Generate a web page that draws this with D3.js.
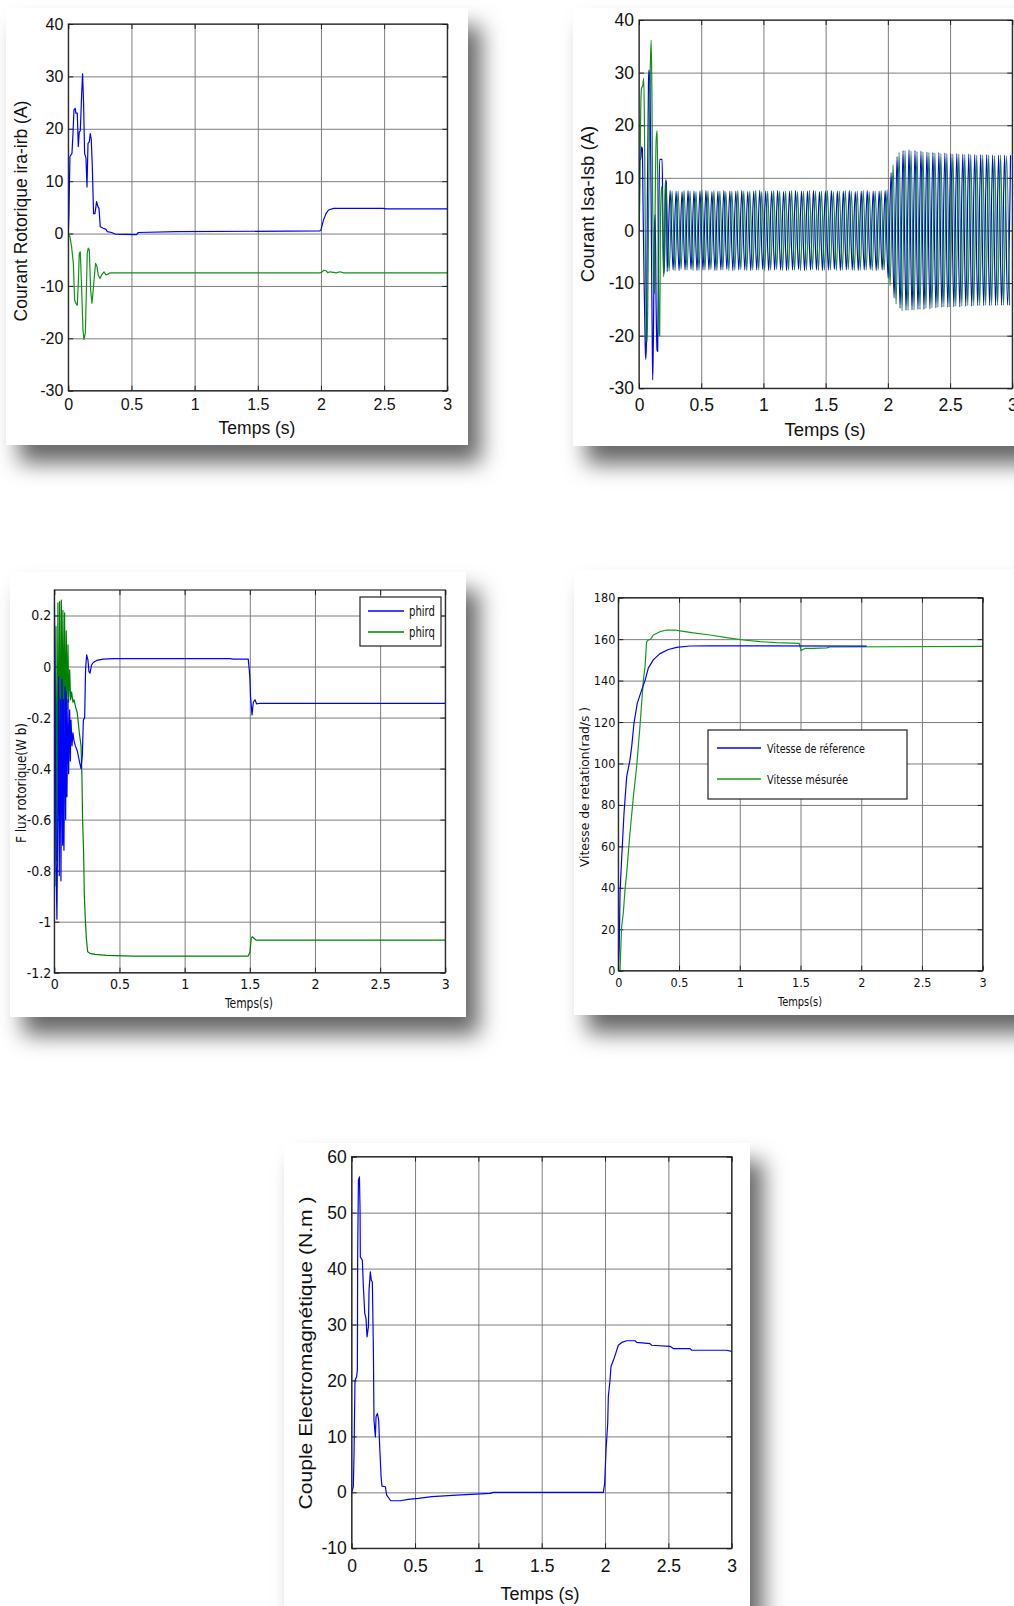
<!DOCTYPE html>
<html><head><meta charset="utf-8">
<script src="https://cdn.jsdelivr.net/npm/d3@7"></script>
<style>body{margin:0;background:#fff}svg{display:block}</style>
</head><body>
<svg id="c" width="1014" height="1606"></svg>
<script>
// ---------------- DATA ----------------
const timeTicks = [0, 0.5, 1, 1.5, 2, 2.5, 3];
const currentTicks = [-30, -20, -10, 0, 10, 20, 30, 40];
const fluxTicks = [-1.2, -1, -0.8, -0.6, -0.4, -0.2, 0, 0.2];
const speedTicks = [0, 20, 40, 60, 80, 100, 120, 140, 160, 180];
const torqueTicks = [-10, 0, 10, 20, 30, 40, 50, 60];

// Panel 1 : rotor currents [t, A]
const ira = [[0,0],[0.005,3.8],[0.013,14.7],[0.029,15.3],[0.037,19.1],[0.045,23.6],[0.055,23.9],[0.06,23],[0.071,23],[0.079,16.6],[0.087,19.4],[0.095,19.6],[0.106,26.8],[0.113,30.5],[0.121,24.9],[0.129,15.3],[0.14,14.4],[0.148,8.9],[0.156,17.2],[0.166,17.5],[0.174,19.1],[0.182,17.9],[0.19,12.8],[0.2,3.8],[0.211,3.8],[0.224,6.1],[0.235,5.1],[0.243,4.8],[0.253,1.3],[0.277,1.0],[0.298,0.8],[0.309,0.35],[0.343,0.2],[0.37,-0.1],[0.54,-0.2],[0.554,0.2],[0.857,0.35],[1.99,0.5],[2.0,0.7],[2.02,2.6],[2.04,3.8],[2.06,4.5],[2.1,4.8],[2.49,4.8],[2.52,4.7],[3.0,4.7]];
const irb = [[0,0],[0.013,-0.6],[0.026,-2.5],[0.04,-5.7],[0.05,-12.7],[0.06,-13.3],[0.071,-13.7],[0.079,-9.5],[0.087,-3.8],[0.095,-3.5],[0.106,-10.8],[0.116,-18.4],[0.124,-20.2],[0.135,-19],[0.142,-12],[0.15,-3.8],[0.158,-2.8],[0.166,-3.1],[0.177,-10.8],[0.187,-13.3],[0.195,-11.4],[0.206,-8.2],[0.216,-5.7],[0.227,-6.3],[0.237,-7.9],[0.251,-8.6],[0.264,-7.9],[0.282,-7.3],[0.298,-7.9],[0.317,-7.7],[0.33,-7.5],[1.99,-7.5],[2.005,-7.4],[2.024,-7.0],[2.04,-7.1],[2.055,-7.5],[2.07,-7.3],[2.1,-7.4],[2.12,-7.5],[2.15,-7.3],[2.18,-7.5],[3.0,-7.5]];

// Panel 2 : stator currents, start-up transient [t, A] then successive peak values
const isaTransient = [[0,0],[0.003,5.5],[0.006,13.5],[0.014,13.5],[0.02,15.9],[0.027,15.5],[0.032,5.8],[0.04,-8],[0.05,-22],[0.054,-24.5],[0.06,-21],[0.067,5],[0.076,28],[0.08,30.5],[0.086,29],[0.092,19.7],[0.1,-2],[0.106,-20],[0.11,-28.4],[0.116,-20],[0.124,0],[0.13,3],[0.138,-15],[0.145,-22.7],[0.15,-23],[0.158,0],[0.166,13.5],[0.186,13.5],[0.192,2],[0.2,-8.2],[0.206,-5],[0.214,9.6],[0.22,9]];
const isbTransient = [[0,0],[0.006,6],[0.012,20],[0.02,27],[0.03,27.5],[0.038,28.9],[0.044,20],[0.052,-5],[0.06,-20.8],[0.066,-21.2],[0.072,-10],[0.08,10],[0.09,30],[0.098,36.2],[0.104,25],[0.11,5],[0.118,-10],[0.124,-12],[0.13,5],[0.138,17.2],[0.146,19],[0.152,5],[0.16,-19.6],[0.166,-20],[0.172,0],[0.18,8.3],[0.186,8],[0.192,-3],[0.198,-8.8],[0.204,-5],[0.21,9.2],[0.216,8.8]];
const peakHalfPeriod = 0.024;   // s between successive peaks
const isaPeakStart = 0.226, isbPeakStart = 0.242;
const isaPeaks = [
 -7.8,7.6,-7.5,7.5,-7.6,7.4,-7.5,7.6,-7.4,7.5,
 -7.6,7.5,-7.5,7.6,-7.5,7.4,-7.6,7.5,-7.5,7.6,
 -7.4,7.5,-7.6,7.5,-7.5,7.6,-7.5,7.4,-7.6,7.5,
 -7.5,7.6,-7.4,7.5,-7.6,7.5,-7.5,7.6,-7.5,7.4,
 -7.6,7.5,-7.5,7.6,-7.4,7.5,-7.6,7.5,-7.5,7.6,
 -7.5,7.4,-7.6,7.5,-7.5,7.6,-7.4,7.5,-7.6,7.5,
 -7.5,7.6,-7.5,7.4,-7.6,7.5,-7.5,7.6,-7.4,7.5,
 -7.6,7.5,-7.5,7.6,
 -9.0,11.0,-12.8,14.0,-14.8,15.2,
 -15.2,15.3,-15.1,15.2,-15.0,15.1,-15.0,14.9,-14.9,14.8,
 -14.7,14.8,-14.6,14.7,-14.6,14.6,-14.5,14.6,-14.5,14.5,
 -14.4,14.5,-14.4,14.4,-14.3,14.4,-14.3,14.4,-14.3,14.3,
 -14.3,14.3,-14.2,14.3,-14.2,14.3];
const isbPeaks = [
 -7.7,7.5,-7.6,7.5,-7.4,7.6,-7.5,7.5,-7.6,7.4,
 -7.5,7.6,-7.5,7.5,-7.4,7.6,-7.6,7.5,-7.5,7.4,
 -7.6,7.5,-7.5,7.6,-7.4,7.5,-7.6,7.5,-7.5,7.6,
 -7.5,7.4,-7.6,7.5,-7.5,7.6,-7.4,7.5,-7.6,7.5,
 -7.5,7.6,-7.5,7.4,-7.6,7.5,-7.5,7.6,-7.4,7.5,
 -7.6,7.5,-7.5,7.6,-7.5,7.4,-7.6,7.5,-7.5,7.6,
 -7.4,7.5,-7.6,7.5,-7.5,7.6,-7.5,7.4,-7.6,7.5,
 -7.5,7.6,-7.5,
 7.7,-10.5,12.5,-14.0,14.8,-15.3,15.2,
 -15.2,15.1,-15.1,15.0,-15.0,14.9,-14.8,14.8,-14.7,14.7,
 -14.6,14.6,-14.5,14.6,-14.5,14.5,-14.4,14.5,-14.4,14.4,
 -14.3,14.4,-14.3,14.3,-14.3,14.3,-14.2,14.3,-14.2,14.2,
 -14.2,14.3,-14.2,14.2,-14.2];

// Panel 3 : rotor flux [t, Wb]
const phird = [[0,0.3],[0.005,0.026],[0.008,-0.26],[0.013,-0.76],[0.02,-0.99],[0.028,-0.5],[0.033,-0.04],[0.038,-0.82],[0.046,-0.13],[0.051,-0.84],[0.059,-0.05],[0.064,-0.7],[0.069,-0.13],[0.074,-0.72],[0.082,-0.08],[0.087,-0.6],[0.092,-0.1],[0.097,-0.51],[0.105,-0.13],[0.11,-0.42],[0.118,-0.17],[0.123,-0.37],[0.128,-0.21],[0.136,-0.31],[0.143,-0.26],[0.151,-0.29],[0.161,-0.31],[0.176,-0.33],[0.192,-0.37],[0.205,-0.4],[0.215,-0.35],[0.223,-0.21],[0.233,-0.2],[0.24,-0.01],[0.248,0.046],[0.258,0.026],[0.266,-0.02],[0.274,-0.026],[0.286,0.006],[0.299,0.016],[0.325,0.024],[0.376,0.029],[0.453,0.031],[1.348,0.031],[1.373,0.029],[1.488,0.029],[1.496,-0.013],[1.501,-0.05],[1.506,-0.12],[1.517,-0.19],[1.527,-0.14],[1.54,-0.13],[1.552,-0.146],[1.578,-0.144],[3,-0.144]];
const phirq = [[0,0],[0.005,-0.86],[0.013,0.157],[0.018,-0.76],[0.028,0.25],[0.033,-0.58],[0.041,0.255],[0.046,-0.5],[0.054,0.26],[0.059,-0.37],[0.066,0.22],[0.072,-0.31],[0.079,0.21],[0.084,-0.24],[0.092,0.14],[0.097,-0.17],[0.105,0.085],[0.11,-0.14],[0.118,-0.013],[0.125,-0.13],[0.133,-0.1],[0.143,-0.14],[0.151,-0.13],[0.164,-0.16],[0.176,-0.18],[0.192,-0.26],[0.205,-0.31],[0.212,-0.43],[0.217,-0.6],[0.225,-0.73],[0.23,-0.89],[0.238,-0.99],[0.246,-1.065],[0.256,-1.118],[0.274,-1.124],[0.312,-1.128],[0.402,-1.132],[0.606,-1.135],[1.488,-1.135],[1.501,-1.12],[1.511,-1.065],[1.519,-1.059],[1.532,-1.065],[1.547,-1.072],[3,-1.072]];

// Panel 4 : speed [t, rad/s]
const wRef = [[0,0],[0.008,11.6],[0.014,37.3],[0.027,53.4],[0.047,76],[0.069,93.6],[0.096,101.7],[0.11,108],[0.129,119.4],[0.156,129],[0.192,135.4],[0.22,140],[0.247,146],[0.288,150],[0.343,153],[0.412,155],[0.48,156],[0.59,156.7],[0.755,156.8],[2.045,156.6]];
const wMes = [[0,0],[0.014,0],[0.027,21],[0.041,27.7],[0.055,39],[0.069,47],[0.082,56.6],[0.096,66.3],[0.124,84],[0.151,98.4],[0.178,117.7],[0.206,140],[0.22,146.7],[0.233,158.8],[0.247,159.6],[0.266,160],[0.288,162],[0.343,163.6],[0.398,164.4],[0.467,164.4],[0.508,164],[0.618,163],[0.755,162],[0.892,160.7],[1.03,159.6],[1.167,158.8],[1.304,158.3],[1.49,158],[1.496,156.7],[1.504,154.4],[1.518,155],[1.537,155.5],[1.606,155.5],[1.716,155.8],[1.743,156.2],[3,156.5]];

// Panel 5 : electromagnetic torque [t, N.m]
const torque = [[0,0],[0.013,1],[0.018,6.4],[0.026,20],[0.039,20.7],[0.045,21.9],[0.047,42.1],[0.053,55.8],[0.061,56.4],[0.066,50.4],[0.068,42.1],[0.084,41.5],[0.092,36.8],[0.103,32],[0.113,31.1],[0.121,27.8],[0.132,29.6],[0.137,36.2],[0.147,39.4],[0.155,37.9],[0.163,37.6],[0.171,26],[0.176,12.9],[0.187,9.9],[0.192,13.5],[0.203,14.1],[0.213,12.9],[0.221,8.2],[0.232,2.8],[0.239,1.1],[0.266,1],[0.276,-0.5],[0.295,-1.1],[0.308,-1.5],[0.382,-1.5],[0.447,-1.25],[0.526,-1.07],[0.632,-0.77],[0.829,-0.48],[1.092,-0.18],[1.118,0],[1.987,0],[1.997,1.6],[2.008,7.6],[2.021,12.3],[2.026,17.1],[2.039,20],[2.047,22.5],[2.066,23.6],[2.084,24.8],[2.105,26.3],[2.132,26.8],[2.171,27.1],[2.237,27.1],[2.25,26.8],[2.355,26.6],[2.368,26.3],[2.513,26.1],[2.539,25.7],[2.671,25.7],[2.684,25.4],[2.96,25.4],[3.0,25.2]];

// ---------------- DRAW ----------------
const svg = d3.select("#c");
const defs = svg.append("defs");
const f = defs.append("filter").attr("id","sh").attr("x","-10%").attr("y","-10%").attr("width","135%").attr("height","135%");
f.append("feDropShadow").attr("dx",13).attr("dy",18).attr("stdDeviation",11).attr("flood-color","#000").attr("flood-opacity",0.6);

const BLUE = "#0000ff", GREEN = "#008000";
const ARIAL = "'Liberation Sans', Arial, sans-serif";
const NARROW = "'Liberation Sans Narrow', 'Arial Narrow', 'DejaVu Sans Condensed', sans-serif";
const fmt = d => String(+d.toFixed(1));

function peaksToPoints(start, vals) {
  return vals.map((v, i) => [start + i * peakHalfPeriod, v]);
}

function panel(c) {
  const g = svg.append("g");
  g.append("rect").attr("x", c.card[0]).attr("y", c.card[1]).attr("width", c.card[2]).attr("height", c.card[3])
    .attr("fill", "#fff").attr("filter", "url(#sh)");
  const [x0, y0, x1, y1] = c.plot;
  const x = d3.scaleLinear().domain([0, 3]).range([x0, x1]);
  const y = d3.scaleLinear().domain(c.yDomain).range([y1, y0]);
  const W = x1 - x0, H = y1 - y0;
  // grid
  const grid = g.append("g");
  grid.append("g").attr("transform", `translate(0,${y1})`)
    .call(d3.axisBottom(x).tickValues(timeTicks).tickSize(-H).tickFormat(""));
  grid.append("g").attr("transform", `translate(${x0},0)`)
    .call(d3.axisLeft(y).tickValues(c.yTicks).tickSize(-W).tickFormat(""));
  grid.selectAll(".domain").remove();
  grid.selectAll("line").attr("stroke", "#7d7d7d").attr("stroke-width", 1);
  // inner tick marks on four sides
  const tk = g.append("g");
  tk.append("g").attr("transform", `translate(0,${y1})`).call(d3.axisBottom(x).tickValues(timeTicks).tickSize(-5).tickFormat(""));
  tk.append("g").attr("transform", `translate(0,${y0})`).call(d3.axisTop(x).tickValues(timeTicks).tickSize(-5).tickFormat(""));
  tk.append("g").attr("transform", `translate(${x0},0)`).call(d3.axisLeft(y).tickValues(c.yTicks).tickSize(-5).tickFormat(""));
  tk.append("g").attr("transform", `translate(${x1},0)`).call(d3.axisRight(y).tickValues(c.yTicks).tickSize(-5).tickFormat(""));
  tk.selectAll(".domain").remove();
  tk.selectAll("line").attr("stroke", "#222");
  // series
  const cid = "clip" + c.id;
  defs.append("clipPath").attr("id", cid).append("rect").attr("x", x0).attr("y", y0).attr("width", W).attr("height", H);
  const sg = g.append("g").attr("clip-path", `url(#${cid})`);
  c.series.forEach(s => {
    const line = d3.line().x(d => x(d[0])).y(d => y(d[1])).curve(s.curve || d3.curveLinear);
    sg.append("path").datum(s.data).attr("d", line).attr("fill", "none")
      .attr("stroke", s.color).attr("stroke-width", s.width || 1.2).attr("stroke-linejoin", "round")
      .attr("stroke-opacity", s.opacity || 1);
  });
  // box
  g.append("rect").attr("x", x0).attr("y", y0).attr("width", W).attr("height", H)
    .attr("fill", "none").attr("stroke", "#1a1a1a").attr("stroke-width", 1.1);
  // tick labels
  const lab = g.append("g").attr("font-family", c.font).attr("font-size", c.tickSize).attr("fill", "#111");
  lab.append("g").attr("transform", `translate(0,${y1})`)
    .call(d3.axisBottom(x).tickValues(timeTicks).tickSize(0).tickPadding(c.xPad).tickFormat(fmt));
  lab.append("g").attr("transform", `translate(${x0},0)`)
    .call(d3.axisLeft(y).tickValues(c.yTicks).tickSize(0).tickPadding(c.yPad).tickFormat(fmt));
  lab.selectAll(".domain").remove();
  lab.selectAll("text").attr("font-family", c.font).attr("font-size", c.tickSize).attr("fill", "#111");
  // axis titles
  const xt = g.append("text").attr("x", c.xLabel[1]).attr("y", c.xLabel[2]).attr("text-anchor", "middle")
    .attr("font-family", c.font).attr("font-size", c.labelSize).attr("fill", "#111").text(c.xLabel[0]);
  if (c.xLabel[3]) xt.attr("textLength", c.xLabel[3]).attr("lengthAdjust", "spacingAndGlyphs");
  const yt = g.append("text").attr("transform", `translate(${c.yLabel[1]},${c.yLabel[2]}) rotate(-90)`)
    .attr("text-anchor", "middle").attr("font-family", c.font).attr("font-size", c.labelSize).attr("fill", "#111")
    .text(c.yLabel[0]);
  if (c.yLabel[3]) yt.attr("textLength", c.yLabel[3]).attr("lengthAdjust", "spacingAndGlyphs");
  // legend
  if (c.legend) {
    const L = c.legend;
    g.append("rect").attr("x", L.box[0]).attr("y", L.box[1]).attr("width", L.box[2]).attr("height", L.box[3])
      .attr("fill", "#fff").attr("stroke", "#222").attr("stroke-width", 1.2);
    L.items.forEach((it, i) => {
      const yy = L.rows[i];
      g.append("line").attr("x1", L.line[0]).attr("x2", L.line[1]).attr("y1", yy).attr("y2", yy)
        .attr("stroke", it.color).attr("stroke-width", 1.3);
      g.append("text").attr("x", L.textX).attr("y", yy + L.size * 0.36).attr("font-family", c.font)
        .attr("font-size", L.size).attr("fill", "#111").attr("textLength", it.len).attr("lengthAdjust", "spacingAndGlyphs")
        .text(it.name);
    });
  }
}

panel({
  id: 1, card: [6, 8, 462, 437], plot: [68.3, 24, 447.3, 390.7], yDomain: [-30, 40], yTicks: currentTicks,
  font: ARIAL, tickSize: 16, labelSize: 17.5, xPad: 8, yPad: 5,
  xLabel: ["Temps (s)", 257, 434], yLabel: ["Courant Rotorique ira-irb (A)", 27, 211],
  series: [{ data: ira, color: BLUE }, { data: irb, color: "#12901a" }]
});

panel({
  id: 2, card: [573, 8, 470, 438], plot: [639, 20, 1012.3, 388.3], yDomain: [-30, 40], yTicks: currentTicks,
  font: ARIAL, tickSize: 17.5, labelSize: 18.5, xPad: 10, yPad: 5,
  xLabel: ["Temps (s)", 825, 436], yLabel: ["Courant Isa-Isb (A)", 594, 204],
  series: [
    { data: isaTransient.concat(peaksToPoints(isaPeakStart, isaPeaks)), color: BLUE, curve: d3.curveMonotoneX, width: 1.2 },
    { data: isbTransient.concat(peaksToPoints(isbPeakStart, isbPeaks)), color: GREEN, curve: d3.curveMonotoneX, width: 1.2, opacity: 0.9 }
  ]
});

panel({
  id: 3, card: [10, 572, 456, 445], plot: [54.3, 590, 445.3, 972.7], yDomain: [-1.2, 0.3], yTicks: fluxTicks,
  font: NARROW, tickSize: 14, labelSize: 13.5, xPad: 6, yPad: 3,
  xLabel: ["Temps(s)", 249, 1008, 48], yLabel: ["F lux  rotorique(W b)", 26, 783, 120],
  series: [{ data: phirq, color: GREEN }, { data: phird, color: BLUE }],
  legend: { box: [360, 597, 81, 49], line: [368, 404], textX: 409, rows: [611, 632], size: 13.5,
    items: [{ name: "phird", color: BLUE, len: 26 }, { name: "phirq", color: GREEN, len: 26 }] }
});

panel({
  id: 4, card: [574, 570, 470, 445], plot: [618.3, 597.7, 982.7, 970.7], yDomain: [0, 180], yTicks: speedTicks,
  font: NARROW, tickSize: 12.5, labelSize: 13, xPad: 7, yPad: 3,
  xLabel: ["Temps(s)", 800, 1006, 44], yLabel: ["Vitesse de retation(rad/s )", 589, 787, 160],
  series: [{ data: wMes, color: "#139a1a" }, { data: wRef, color: BLUE }],
  legend: { box: [708, 730, 199, 69], line: [717, 761], textX: 767, rows: [748, 779], size: 13,
    items: [{ name: "Vitesse de réference", color: BLUE, len: 98 }, { name: "Vitesse mésurée", color: "#139a1a", len: 81 }] }
});

panel({
  id: 5, card: [284, 1143, 466, 480], plot: [351.7, 1156.7, 731.7, 1548.3], yDomain: [-10, 60], yTicks: torqueTicks,
  font: ARIAL, tickSize: 17.5, labelSize: 18, xPad: 11, yPad: 5,
  xLabel: ["Temps (s)", 540, 1600], yLabel: ["Couple Electromagnétique (N.m )", 312, 1353, 313],
  series: [{ data: torque, color: BLUE }]
});
</script>
</body></html>
